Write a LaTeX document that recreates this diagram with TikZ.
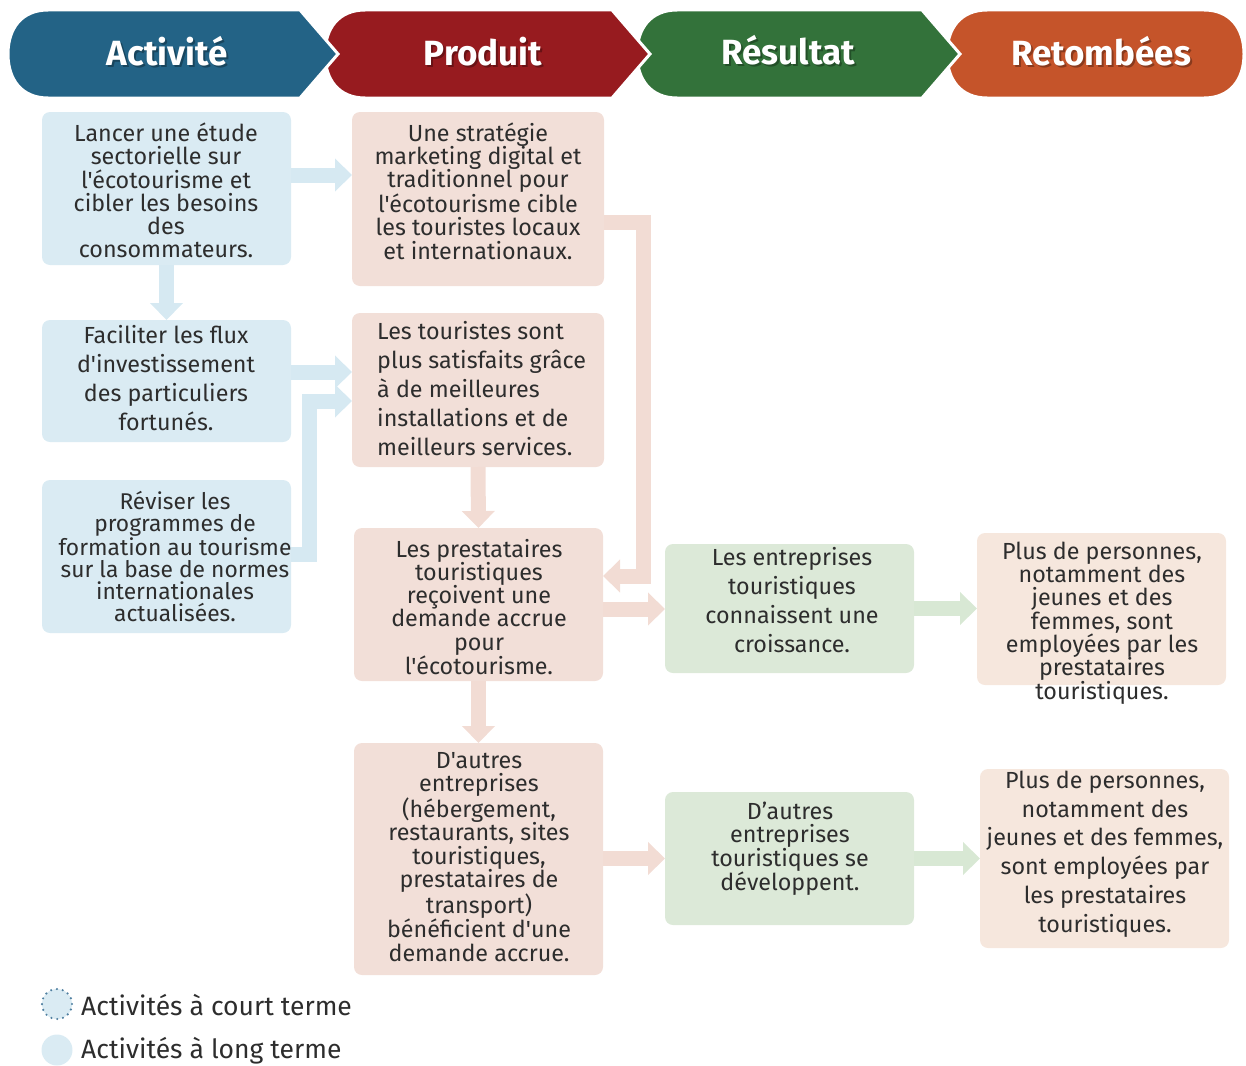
\documentclass[tikz,border=0pt]{standalone}
\usepackage{fontspec}
\setmainfont{Fira Sans}[Ligatures=TeXOff]
\usetikzlibrary{arrows.meta}

\definecolor{actcol}{HTML}{236386}
\definecolor{prodcol}{HTML}{971B1F}
\definecolor{rescol}{HTML}{33723A}
\definecolor{retcol}{HTML}{C5542A}
\definecolor{blbox}{HTML}{DAEBF3}
\definecolor{pkbox}{HTML}{F2DFD8}
\definecolor{gnbox}{HTML}{DCE9D8}
\definecolor{pcbox}{HTML}{F6E7DD}
\definecolor{blarr}{HTML}{D6E9F2}
\definecolor{pkarr}{HTML}{F2DCD4}
\definecolor{gnarr}{HTML}{D8E8D4}
\definecolor{ink}{HTML}{2D2D2D}
\definecolor{dotcol}{HTML}{4F7FA0}

\tikzset{
  headshape/.style={fill=#1, draw=white, line width=3pt, line join=miter},
  headtext/.style={text=white, font=\fontsize{35}{38}\selectfont\bfseries, anchor=base, inner sep=0pt},
  headshadow/.style={text=black, opacity=0.3, font=\fontsize{35}{38}\selectfont\bfseries, anchor=base, inner sep=0pt},
  card/.style={fill=#1, rounded corners=8pt, inner sep=0pt, outer sep=0pt},
  tight/.style={text=ink, align=center, inner sep=0pt, font=\fontsize{23.3}{23.3}\selectfont},
  loose/.style={text=ink, align=center, inner sep=0pt, font=\fontsize{23.3}{28.8}\selectfont},
  flow/.style={draw=#1, line width=15pt, line join=miter, -{Triangle[width=32pt,length=17pt]}},
  legtext/.style={text=ink, anchor=west, inner sep=0pt, font=\fontsize{26.5}{30}\selectfont},
}

\begin{document}
\begin{tikzpicture}[x=1pt,y=-1pt]
\useasboundingbox (0,0) rectangle (1246,1065);

% ---- header chevrons (drawn right to left so each tip overlaps the next band)
\path[headshape=retcol] (1204,10) -- (987,10) .. controls (961,10) and (947,28) .. (947,54)
  .. controls (947,80) and (961,98) .. (987,98) -- (1204,98)
  .. controls (1230,98) and (1244,80) .. (1244,54) .. controls (1244,28) and (1230,10) .. (1204,10) -- cycle;
\path[headshape=rescol] (922,10) -- (677,10) .. controls (651,10) and (637,28) .. (637,54)
  .. controls (637,80) and (651,98) .. (677,98) -- (922,98) -- (960,54) -- cycle;
\path[headshape=prodcol] (612,10) -- (365,10) .. controls (339,10) and (325,28) .. (325,54)
  .. controls (325,80) and (339,98) .. (365,98) -- (612,98) -- (650,54) -- cycle;
\path[headshape=actcol] (300,10) -- (48,10) .. controls (22,10) and (8,28) .. (8,54)
  .. controls (8,80) and (22,98) .. (48,98) -- (300,98) -- (338,54) -- cycle;

\node[headshadow] (hs1) at (169,67.5) {Activité};
\node[headtext] (h1) at (167,65.5) {Activité};
\node[headshadow] (hs2) at (485,67.5) {Produit};
\node[headtext] (h2) at (483,65.5) {Produit};
\node[headshadow] (hs3) at (790,66.5) {Résultat};
\node[headtext] (h3) at (788,64.5) {Résultat};
\node[headshadow] (hs4) at (1103,67.5) {Retombées};
\node[headtext] (h4) at (1101,65.5) {Retombées};

% ---- cards
\node[card=blbox, minimum width=249pt, minimum height=153pt] (a1) at (166.5,188.5) {};
\node[card=blbox, minimum width=249pt, minimum height=122pt] (a2) at (166.5,381) {};
\node[card=blbox, minimum width=249pt, minimum height=153pt] (a3) at (166.5,556.5) {};
\node[card=pkbox, minimum width=252pt, minimum height=174pt] (p1) at (478,199) {};
\node[card=pkbox, minimum width=252pt, minimum height=154pt] (p2) at (478,390) {};
\node[card=pkbox, minimum width=249pt, minimum height=153pt] (p3) at (478.5,604.5) {};
\node[card=pkbox, minimum width=249pt, minimum height=232pt] (p4) at (478.5,859) {};
\node[card=gnbox, minimum width=249pt, minimum height=129pt] (r1) at (789.5,608.5) {};
\node[card=gnbox, minimum width=249pt, minimum height=133pt] (r2) at (789.5,858.5) {};
\node[card=pcbox, minimum width=249pt, minimum height=152pt] (t1) at (1101.5,609) {};
\node[card=pcbox, minimum width=249pt, minimum height=179pt] (t2) at (1104.5,858.5) {};

% ---- card texts
\node[tight] (a1t) at (166,190.5) {Lancer une étude\\sectorielle sur\\l'écotourisme et\\cibler les besoins\\des\\consommateurs.};
\node[loose, font=\fontsize{23.3}{28.7}\selectfont] (a2t) at (166,378) {Faciliter les flux\\d'investissement\\des particuliers\\fortunés.};
\node[tight, font=\fontsize{22.8}{22.2}\selectfont] (a3t) at (175,556.5) {Réviser les\\programmes de\\formation au tourisme\\sur la base de normes\\internationales\\actualisées.};
\node[tight] (p1t) at (478,191) {Une stratégie\\marketing digital et\\traditionnel pour\\l'écotourisme cible\\les touristes locaux\\et internationaux.};
\node[loose, align=left, anchor=west] (p2t) at (377,388.5) {Les touristes sont\\plus satisfaits grâce\\à de meilleures\\installations et de\\meilleurs services.};
\node[tight] (p3t) at (479,607) {Les prestataires\\touristiques\\reçoivent une\\demande accrue\\pour\\l'écotourisme.};
\node[tight] (p4t) at (479,857) {D'autres\\entreprises\\(hébergement,\\restaurants, sites\\touristiques,\\prestataires de\\transport)\\bénéficient d'une\\demande accrue.};
\node[loose] (r1t) at (792,600) {Les entreprises\\touristiques\\connaissent une\\croissance.};
\node[tight, font=\fontsize{23.3}{23.7}\selectfont] (r2t) at (790,848.5) {D’autres\\entreprises\\touristiques se\\développent.};
\node[tight] (t1t) at (1102,623) {Plus de personnes,\\notamment des\\jeunes et des\\femmes, sont\\employées par les\\prestataires\\touristiques.};
\node[loose] (t2t) at (1105,854) {Plus de personnes,\\notamment des\\jeunes et des femmes,\\sont employées par\\les prestataires\\touristiques.};

% ---- activity connectors
\draw[flow=blarr] ([yshift=13.5pt]a1.east) -- ([yshift=13.5pt]a1.east -| p1.west);
\draw[flow=blarr] (a1.south) -- (a2.north);
\draw[flow=blarr] ([yshift=9pt]a2.east) -- ([yshift=9pt]a2.east -| p2.west);
\draw[flow=blarr] ([yshift=2.5pt]a3.east) -| ([xshift=-43pt,yshift=-11pt]p2.west) -- ([yshift=-11pt]p2.west);

% ---- product connectors
\draw[flow=pkarr] ([yshift=-23pt]p1.east) -| ([xshift=40pt,yshift=28.5pt]p3.east) -- ([yshift=28.5pt]p3.east);
\draw[flow=pkarr] (p2.south) -- (p3.north);
\draw[flow=pkarr] ([yshift=-4.5pt]p3.east) -- ([yshift=-4.5pt]p3.east -| r1.west);
\draw[flow=pkarr] (p3.south) -- (p4.north);
\draw[flow=pkarr] (p4.east |- r2.west) -- (r2.west);

% ---- result connectors
\draw[flow=gnarr] (r1.east) -- (r1.east -| t1.west);
\draw[flow=gnarr] (r2.east) -- (r2.east -| t2.west);

% ---- legend
\node[circle, minimum size=30pt, inner sep=0pt, fill=blbox, draw=dotcol, line width=2.4pt,
      line cap=round, dash pattern=on 0pt off 5.9pt] (lg1) at (57,1004) {};
\node[legtext] (lg1t) at (81,1005) {Activités à court terme};
\node[circle, minimum size=31pt, inner sep=0pt, fill=blbox] (lg2) at (57,1050) {};
\node[legtext] (lg2t) at (81,1051) {Activités à long terme};
\end{tikzpicture}
\end{document}
